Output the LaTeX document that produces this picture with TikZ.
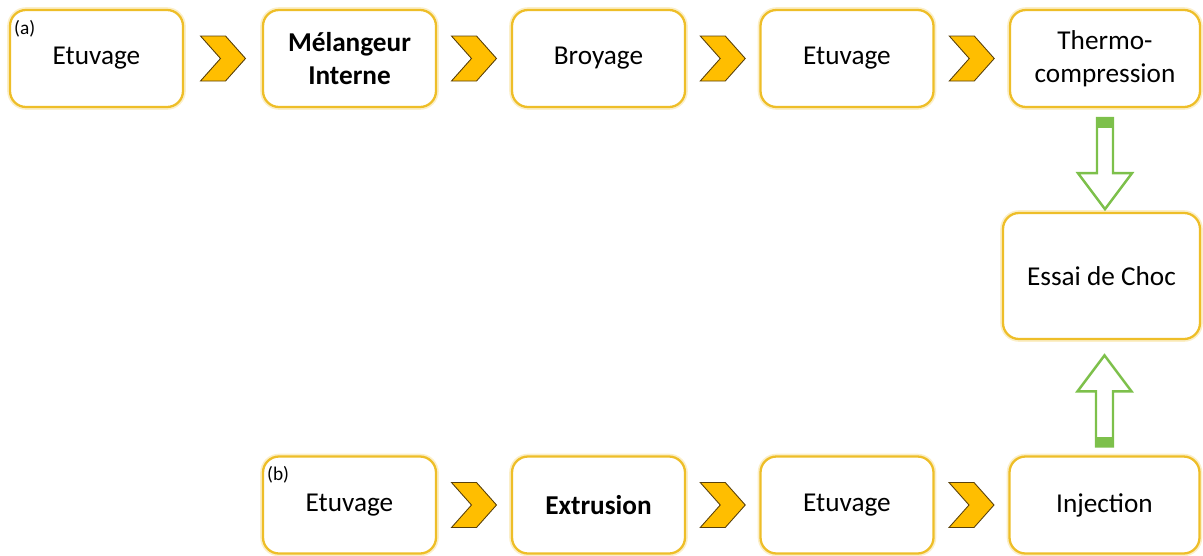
\documentclass[tikz,border=0pt]{standalone}
\usepackage{fontspec}
\setmainfont{Carlito}
\usetikzlibrary{calc}
\definecolor{boxgold}{RGB}{238,190,40}
\definecolor{chevfill}{RGB}{255,190,0}
\definecolor{chevline}{RGB}{90,65,10}
\definecolor{arrowgreen}{RGB}{125,192,75}
\tikzset{
  procbox/.style={draw=boxgold, line width=1.3pt, fill=white, rounded corners=0.32cm,
    minimum width=3.46cm, minimum height=1.94cm, align=center,
    font=\fontsize{15.5}{18.5}\selectfont,
    preaction={draw=boxgold!25, line width=3.2pt}},
  tag/.style={font=\fontsize{11}{13}\selectfont, inner sep=0pt},
  hollow/.style={draw=arrowgreen, line width=1.4pt, fill=white, line join=miter},
  chev/.pic={\draw[fill=chevfill, draw=chevline, line width=0.5pt]
    (-0.45,0.45) -- (0.05,0.45) -- (0.45,0) -- (0.05,-0.45) -- (-0.45,-0.45) -- (-0.05,0) -- cycle;}
}
\begin{document}
\begin{tikzpicture}
  \useasboundingbox (0,0) rectangle (24.06,11.1);

  % (a) top row
  \node[procbox] (a1) at (1.93,9.93) {Etuvage};
  \node[procbox] (a2) at (6.99,9.93) {\textbf{Mélangeur}\\\textbf{Interne}};
  \node[procbox] (a3) at (11.97,9.93) {Broyage};
  \node[procbox] (a4) at (16.94,9.93) {Etuvage};
  \node[procbox, minimum width=3.8cm] (a5) at (22.1,9.93) {Thermo-\\compression};
  \node[tag, anchor=north west] (taga) at ($(a1.north west)+(0.1,-0.22)$) {(a)};

  % Essai de choc
  \node[procbox, minimum width=3.94cm, minimum height=2.52cm] (choc) at (22.03,5.58) {Essai de Choc};

  % (b) bottom row
  \node[procbox] (b1) at (6.99,1.0) {Etuvage};
  \node[procbox] (b2) at (11.97,1.0) {\textbf{Extrusion}};
  \node[procbox] (b3) at (16.94,1.0) {Etuvage};
  \node[procbox, minimum width=3.8cm] (b4) at (22.09,1.0) {Injection};
  \node[tag, anchor=north west] (tagb) at ($(b1.north west)+(0.1,-0.22)$) {(b)};

  % Chevrons between steps
  \foreach \u/\v in {a1/a2, a2/a3, a3/a4, a4/a5, b1/b2, b2/b3, b3/b4}
    \pic at ($(\u.east)!0.5!(\v.west)$) {chev};

  % Green arrows to the impact test
  \draw[hollow] ($(a5.south)+(-0.16,-0.2)$) -- ++(0,-1.1) -- ++(-0.38,0) -- ++(0.54,-0.72)
    -- ++(0.54,0.72) -- ++(-0.38,0) -- ++(0,1.1) -- cycle;
  \fill[arrowgreen] ($(a5.south)+(-0.16,-0.2)$) rectangle ++(0.32,-0.2);
  \draw[hollow] ($(b4.north)+(-0.17,0.18)$) -- ++(0,1.1) -- ++(-0.37,0) -- ++(0.54,0.72)
    -- ++(0.54,-0.72) -- ++(-0.37,0) -- ++(0,-1.1) -- cycle;
  \fill[arrowgreen] ($(b4.north)+(-0.17,0.18)$) rectangle ++(0.34,0.18);
\end{tikzpicture}
\end{document}
